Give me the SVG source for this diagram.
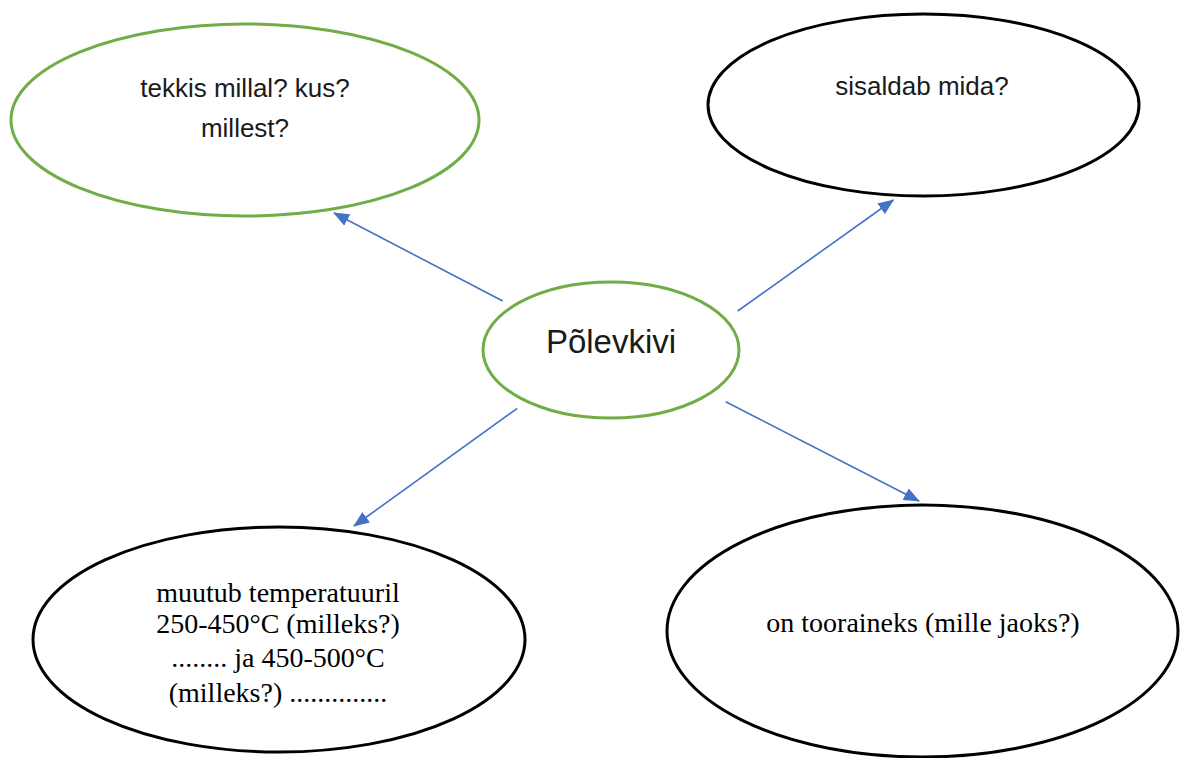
<svg xmlns="http://www.w3.org/2000/svg" width="1201" height="758" viewBox="0 0 1201 758">
<defs>
<style>
.green{fill:#fff;stroke:#70AD47;stroke-width:3}
.black{fill:#fff;stroke:#000;stroke-width:3}
.sans{font-family:"Liberation Sans",Arial,sans-serif;fill:#1a1a1a;text-anchor:middle}
.serif{font-family:"Liberation Serif","Times New Roman",serif;fill:#000;text-anchor:middle;font-size:28px}
.conn{stroke:#4472C4;stroke-width:1.6;fill:none;marker-end:url(#ah)}
</style>
<marker id="ah" markerUnits="userSpaceOnUse" markerWidth="16" markerHeight="13" viewBox="0 0 16 13" refX="15" refY="6.5" orient="auto">
<path d="M0,0 L16,6.5 L0,13 Z" fill="#4472C4"/>
</marker>
</defs>
<rect width="1201" height="758" fill="#fff"/>
<g id="connectors">
<line class="conn" x1="502.7" y1="301" x2="334" y2="213"/>
<line class="conn" x1="737.7" y1="311" x2="893.3" y2="200"/>
<line class="conn" x1="517.3" y1="408.3" x2="354" y2="526"/>
<line class="conn" x1="725.7" y1="401.7" x2="919" y2="501"/>
</g>
<g id="node-tekkis">
<ellipse class="green" cx="245" cy="120" rx="234" ry="96"/>
<text class="sans" font-size="26" x="245" y="97">tekkis millal? kus?</text>
<text class="sans" font-size="26" x="245" y="137">millest?</text>
</g>
<g id="node-sisaldab">
<ellipse class="black" cx="923.5" cy="105" rx="215.5" ry="91"/>
<text class="sans" font-size="26" x="922" y="95">sisaldab mida?</text>
</g>
<g id="node-polevkivi">
<ellipse class="green" cx="611" cy="350" rx="128" ry="68"/>
<text class="sans" font-size="33" x="611" y="353">Põlevkivi</text>
</g>
<g id="node-muutub">
<ellipse class="black" cx="279" cy="639.5" rx="246" ry="112.5"/>
<text class="serif" x="278" y="602">muutub temperatuuril</text>
<text class="serif" x="278" y="633">250-450°C (milleks?)</text>
<text class="serif" x="278" y="667">........ ja 450-500°C</text>
<text class="serif" x="278" y="702">(milleks?) ..............</text>
</g>
<g id="node-tooraineks">
<ellipse class="black" cx="922.5" cy="631" rx="255.5" ry="126"/>
<text class="serif" x="923" y="632">on tooraineks (mille jaoks?)</text>
</g>
</svg>
